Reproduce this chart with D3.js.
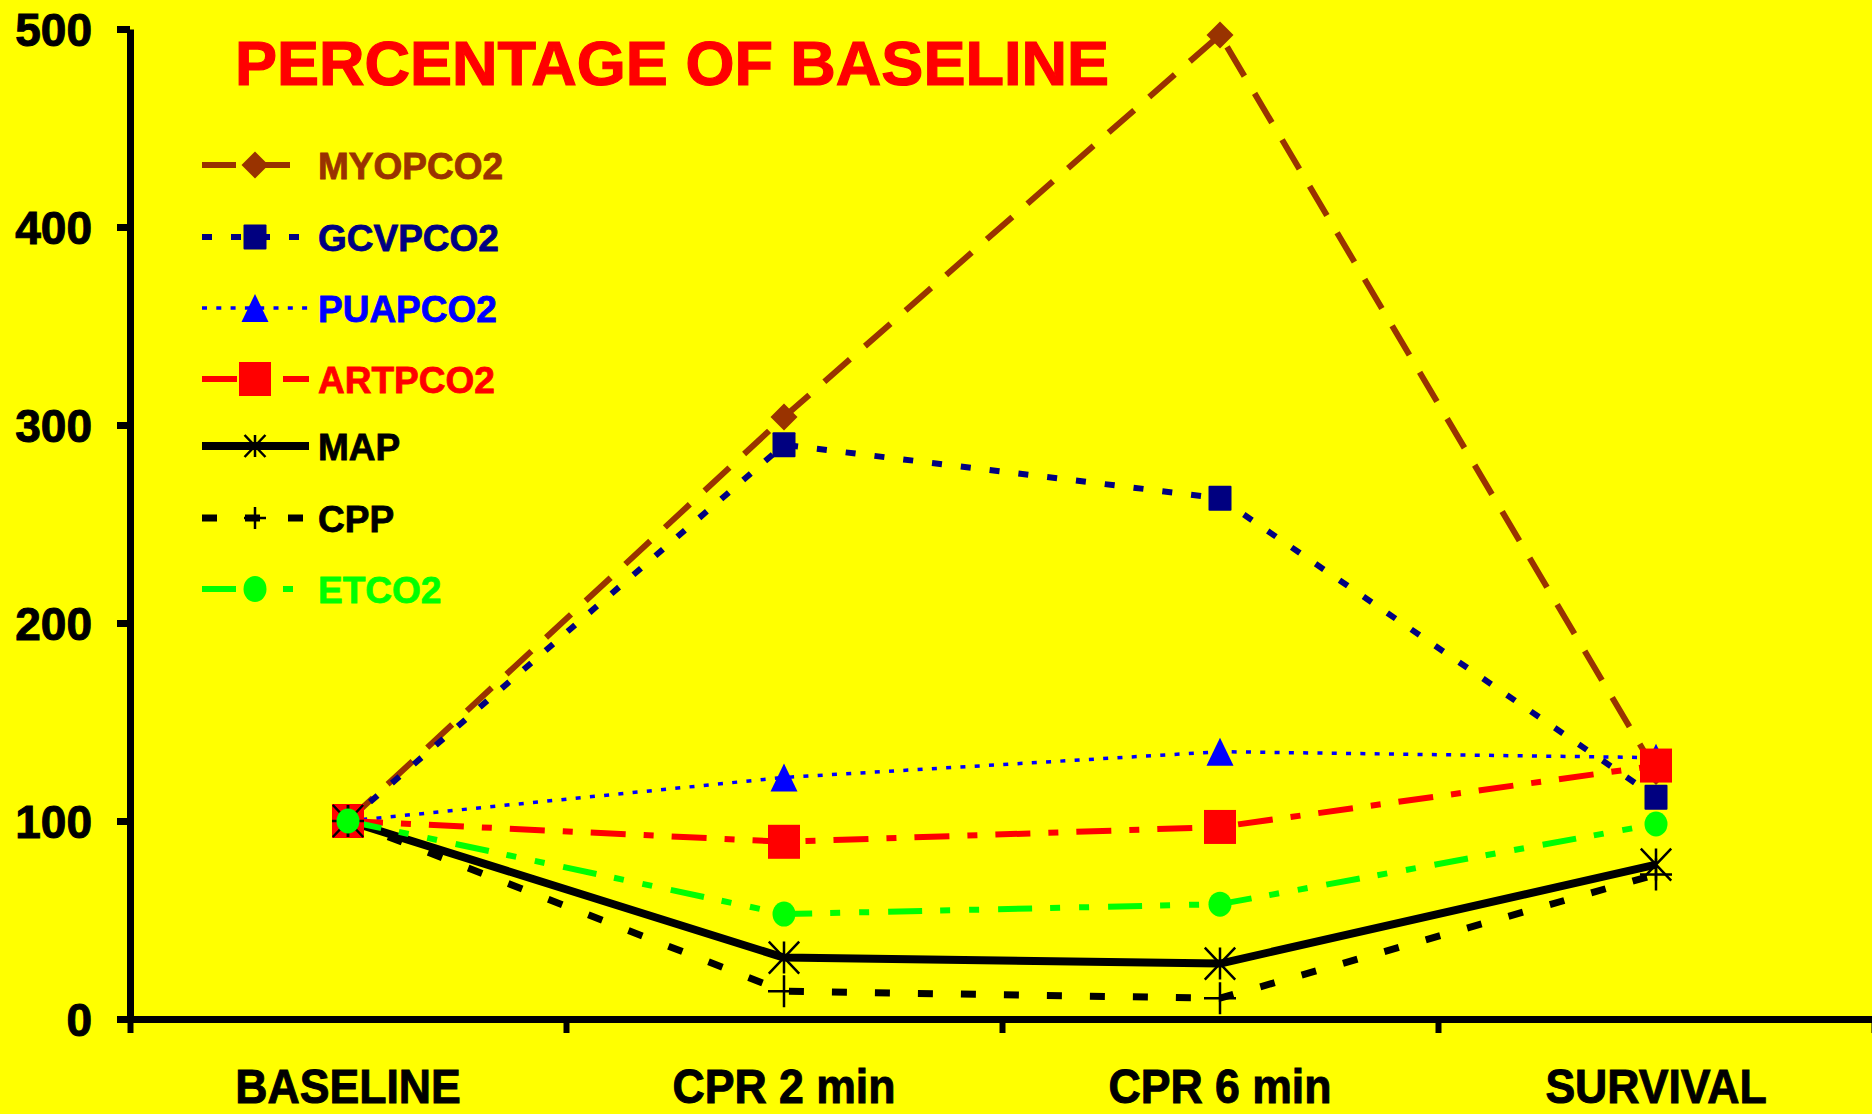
<!DOCTYPE html>
<html>
<head>
<meta charset="utf-8">
<script src="https://cdn.jsdelivr.net/npm/d3@7"></script>
<style>
  html, body { margin: 0; padding: 0; background: #FFFF00; }
  svg { display: block; }
  text { font-family: "Liberation Sans", Arial, sans-serif; font-weight: bold; }
</style>
</head>
<body>
<script>
// ---------- data ----------
const categories = ["BASELINE", "CPR 2 min", "CPR 6 min", "SURVIVAL"];
const yTickValues = [0, 100, 200, 300, 400, 500];
const seriesNames = ["MYOPCO2", "GCVPCO2", "PUAPCO2", "ARTPCO2", "MAP", "CPP", "ETCO2"];
const myopco2 = [100, 304, 497, 125];
const gcvpco2 = [100, 290, 263, 112];
const puapco2 = [100, 122, 135, 132];
const artpco2 = [100, 89.5, 97, 128];
const mapVals = [100, 31, 28, 78];
const cppVals = [100, 14, 10.5, 73];
const etco2 = [100, 53, 58, 98.5];
const titleText = "PERCENTAGE OF BASELINE";

const seriesValues = [myopco2, gcvpco2, puapco2, artpco2, mapVals, cppVals, etco2];

// ---------- styles ----------
const styles = {
  MYOPCO2: { color: "#993300", width: 6, dash: "34,20", marker: "diamond" },
  GCVPCO2: { color: "#000080", width: 6, dash: "10,19", marker: "square" },
  PUAPCO2: { color: "#0000FF", width: 3.5, dash: "5,9.3", marker: "triangle" },
  ARTPCO2: { color: "#FF0000", width: 6, dash: "35,18,10,18", marker: "bigsquare" },
  MAP:     { color: "#000000", width: 8, dash: null, marker: "asterisk" },
  CPP:     { color: "#000000", width: 7, dash: "15,28", marker: "plus" },
  ETCO2:   { color: "#00FF00", width: 6, dash: "34,18,10,19,10,19", marker: "circle" }
};

const W = 1872, H = 1114;
const svg = d3.select("body").append("svg").attr("width", W).attr("height", H);
svg.append("rect").attr("width", W).attr("height", H).attr("fill", "#FFFF00");

const x = d3.scaleBand().domain(categories).range([130, 1874]).padding(0);
const xc = c => x(c) + x.bandwidth() / 2;
const y = d3.scaleLinear().domain([0, 500]).range([1019, 29]);
const xEdge = d3.scaleLinear().domain([0, categories.length]).range([130, 1874]);

// ---------- axes ----------
const yAxis = svg.append("g").attr("transform", "translate(130,0)")
  .call(d3.axisLeft(y).tickValues(yTickValues).tickSize(13).tickSizeOuter(0).tickPadding(25));
yAxis.select(".domain").attr("stroke", "#000").attr("stroke-width", 7);
yAxis.selectAll(".tick line").attr("stroke", "#000").attr("stroke-width", 7);
yAxis.selectAll(".tick text").attr("font-size", 46).attr("fill", "#000")
  .attr("stroke", "#000").attr("stroke-width", 1)
  .attr("font-family", "Liberation Sans, Arial, sans-serif").attr("font-weight", "bold")
  .attr("dy", "0.36em");

const xAxis = svg.append("g").attr("transform", "translate(0,1019)")
  .call(d3.axisBottom(xEdge).tickValues(d3.range(categories.length + 1)).tickSize(14).tickSizeOuter(0).tickFormat(""));
xAxis.select(".domain").attr("stroke", "#000").attr("stroke-width", 7);
xAxis.selectAll(".tick line").attr("stroke", "#000").attr("stroke-width", 6);

const xLab = svg.append("g").attr("transform", "translate(0,1019)")
  .call(d3.axisBottom(x).tickSize(0).tickPadding(0));
xLab.select(".domain").remove();
xLab.selectAll(".tick text")
  .attr("font-size", 49).attr("fill", "#000")
  .attr("stroke", "#000").attr("stroke-width", 1)
  .attr("font-family", "Liberation Sans, Arial, sans-serif").attr("font-weight", "bold")
  .attr("y", 0).attr("dy", 0)
  .attr("transform", "translate(0,84) scale(0.91,1)");

// ---------- title ----------
svg.append("text").attr("x", 235).attr("y", 85)
  .attr("font-size", 63).attr("fill", "#FF0000")
  .attr("stroke", "#FF0000").attr("stroke-width", 1.2).text(titleText);

// ---------- markers ----------
function drawMarker(g, type, cx, cy, color, legend) {
  const m = g.append("g").attr("transform", `translate(${cx},${cy})`);
  if (type === "diamond") {
    m.append("path").attr("d", "M0,-13.5L13.5,0L0,13.5L-13.5,0Z").attr("fill", color);
  } else if (type === "square") {
    m.append("rect").attr("x", -11.5).attr("y", -12.5).attr("width", 23).attr("height", 25).attr("rx", 1).attr("fill", color);
  } else if (type === "triangle") {
    m.append("path").attr("d", "M0,-14L13.5,14L-13.5,14Z").attr("fill", color);
  } else if (type === "bigsquare") {
    m.append("rect").attr("x", -16).attr("y", -17).attr("width", 32).attr("height", 34).attr("fill", color);
  } else if (type === "circle") {
    m.append("ellipse").attr("rx", 11.5).attr("ry", legend ? 13 : 12.5).attr("fill", color);
  } else if (type === "asterisk") {
    const s = legend ? 11 : 16;
    const d = `M0,${-s}L0,${s}M${-s*0.95},${-s}L${s*0.95},${s}M${s*0.95},${-s}L${-s*0.95},${s}`;
    m.append("path").attr("d", d).attr("stroke", color).attr("stroke-width", 2.5).attr("fill", "none");
  } else if (type === "plus") {
    const s = legend ? 11 : 16;
    const d = `M0,${-s}L0,${s}M${-s},0L${s},0`;
    m.append("path").attr("d", d).attr("stroke", color).attr("stroke-width", 2.5).attr("fill", "none");
  }
}

// ---------- lines (all first) ----------
const line = d3.line().x((d, i) => xc(categories[i])).y(d => y(d));
const linesG = svg.append("g");
seriesNames.forEach((name, si) => {
  const st = styles[name];
  linesG.append("path")
    .attr("d", line(seriesValues[si]))
    .attr("fill", "none")
    .attr("stroke", st.color)
    .attr("stroke-width", st.width)
    .attr("stroke-dasharray", st.dash)
    .attr("stroke-linejoin", "round");
});

// ---------- markers ----------
const markG = svg.append("g");
seriesNames.forEach((name, si) => {
  const st = styles[name];
  seriesValues[si].forEach((v, i) => {
    drawMarker(markG, st.marker, xc(categories[i]), y(v), st.color, false);
  });
});

// ---------- legend ----------
const legendRowY = [165, 237, 308, 379, 446, 518, 589];
const legG = svg.append("g");
seriesNames.forEach((name, i) => {
  const st = styles[name];
  const ly = legendRowY[i];
  legG.append("line").attr("x1", 202).attr("x2", 309).attr("y1", ly).attr("y2", ly)
    .attr("stroke", st.color).attr("stroke-width", st.width)
    .attr("stroke-dasharray", st.dash);
  drawMarker(legG, st.marker, 255, ly, st.color, true);
  legG.append("text").attr("x", 318).attr("y", ly + 13.5)
    .attr("font-size", 37).attr("fill", st.color)
    .attr("stroke", st.color).attr("stroke-width", 0.8).text(name);
});
</script>
</body>
</html>
